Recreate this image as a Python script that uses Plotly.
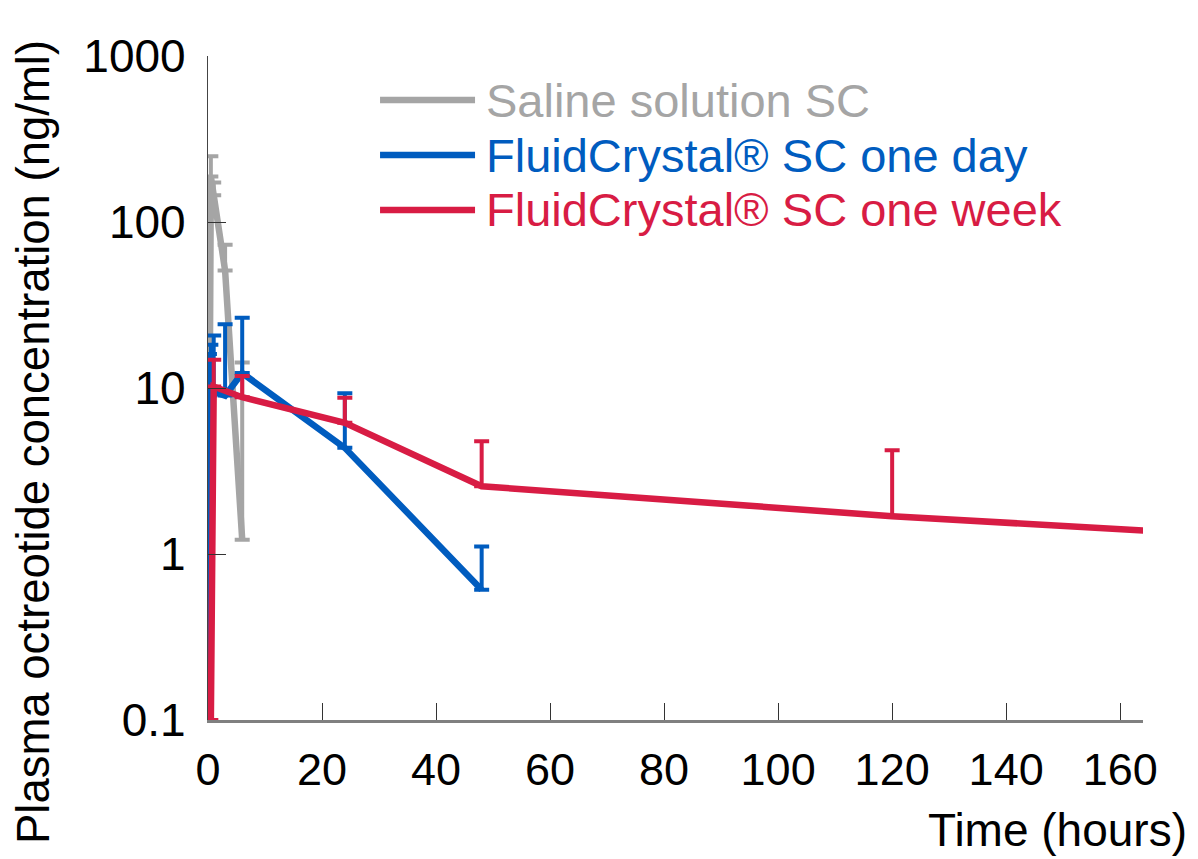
import plotly.graph_objects as go

# ---- data ----
saline_t = [0, 0.5, 1, 3, 6]
saline_v = [0.1, 188, 145, 51, 1.22]
saline_err = [0, 61, 28, 22, 13]

day_t = [0, 0.25, 0.5, 1, 3, 6, 24, 48]
day_v = [0.1, 9.0, 10.0, 9.5, 9.0, 12.3, 4.36, 0.61]
day_err = [0, 7.0, 8.2, 11.2, 15.2, 14.2, 4.93, 0.5]

week_t = [0.5, 1, 6, 24, 48, 120, 168]
week_v = [0.1, 10.2, 8.8, 6.17, 2.56, 1.69, 1.36]
week_err = [0, 4.6, 3.0, 2.57, 2.22, 2.53, 2.0]

x_ticks = [0, 20, 40, 60, 80, 100, 120, 140, 160]
y_ticks = [0.1, 1, 10, 100, 1000]
y_tick_labels = ["0.1", "1", "10", "100", "1000"]

names = ["Saline solution SC", "FluidCrystal® SC one day", "FluidCrystal® SC one week"]
colors = ["#a5a5a5", "#005cbf", "#d81c44"]

FONT = "Liberation Sans, Arial, sans-serif"

fig = go.Figure()
series = [(saline_t, saline_v, saline_err), (day_t, day_v, day_err), (week_t, week_v, week_err)]
for (t, v, e), name, col in zip(series, names, colors):
    fig.add_trace(go.Scatter(
        x=t, y=v, mode="lines", name=name,
        line=dict(color=col, width=6.5),
        error_y=dict(type="data", array=e, symmetric=False, arrayminus=[0] * len(e),
                     color=col, thickness=4, width=7.5),
        showlegend=False,
    ))

# manual legend
leg_y = [0.9337, 0.8509, 0.7681]
for name, col, yy in zip(names, colors, leg_y):
    fig.add_shape(type="line", xref="paper", yref="paper",
                  x0=0.184, x1=0.2856, y0=yy, y1=yy,
                  line=dict(color=col, width=6.5))
    fig.add_annotation(xref="paper", yref="paper", x=0.2952, y=yy,
                       xanchor="left", yanchor="middle", showarrow=False,
                       text=name, font=dict(family=FONT, size=47, color=col))

# axis titles
fig.add_annotation(xref="paper", yref="paper", x=-0.186, y=0.4187,
                   xanchor="center", yanchor="middle", showarrow=False, textangle=-90,
                   text="Plasma octreotide concentration (ng/ml)",
                   font=dict(family=FONT, size=45.5, color="black"))
fig.add_annotation(xref="paper", yref="paper", x=1.0493, y=-0.1657,
                   xanchor="right", yanchor="middle", showarrow=False,
                   text="Time (hours)",
                   font=dict(family=FONT, size=46, color="black"))

fig.update_layout(
    width=1198, height=859,
    margin=dict(l=208, r=55, t=56, b=139),
    paper_bgcolor="white", plot_bgcolor="white",
    font=dict(family=FONT, size=45, color="black"),
    xaxis=dict(range=[0, 164], tickvals=x_ticks, ticks="inside", ticklen=17,
               tickcolor="#333333", tickwidth=1.2, showline=True, linecolor="#808080",
               linewidth=3, showgrid=False, zeroline=False, automargin=False,
               tickfont=dict(family=FONT, size=45), ticklabelstandoff=8),
    yaxis=dict(type="log", range=[-1, 3], tickvals=y_ticks, ticktext=y_tick_labels,
               ticks="inside", ticklen=18, tickcolor="#333333", tickwidth=1.2,
               showline=True, linecolor="#444444", linewidth=1.2, showgrid=False,
               zeroline=False, automargin=False,
               tickfont=dict(family=FONT, size=46), ticklabelstandoff=12),
)

fig.write_html("out.html", config={"displayModeBar": False},
               post_script="document.body.style.margin='0';document.body.style.overflow='hidden';")
